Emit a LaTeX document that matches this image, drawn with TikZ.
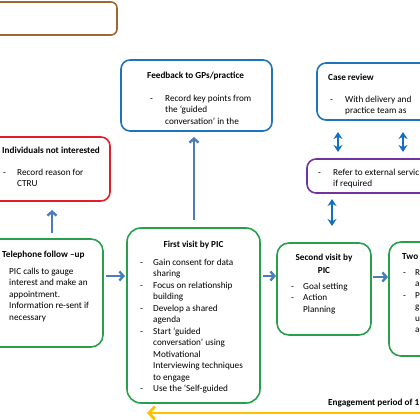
\documentclass[tikz,border=0pt]{standalone}
\usepackage{fontspec}
\setmainfont{Carlito}
\usetikzlibrary{arrows.meta}
\definecolor{gboxc}{RGB}{40,160,75}
\definecolor{bboxc}{RGB}{30,115,190}
\definecolor{rboxc}{RGB}{228,30,40}
\definecolor{pboxc}{RGB}{115,50,160}
\definecolor{brboxc}{RGB}{158,104,46}
\definecolor{arrowblue}{RGB}{74,126,187}
\definecolor{dblue}{RGB}{20,110,195}
\definecolor{yarrow}{RGB}{255,192,0}
\newcommand{\mybody}{\fontsize{9.2}{11.5}\selectfont}
\newcommand{\mytitle}{\fontsize{9.2}{11.5}\selectfont\bfseries}
\begin{document}
\begin{tikzpicture}[x=1pt,y=-1pt,
  bx/.style={draw=#1, line width=1.6pt, rounded corners=9pt, inner sep=0pt, outer sep=0pt},
  ttl/.style={font=\mytitle, inner sep=0pt, anchor=base west},
  bdy/.style={font=\mybody, inner sep=0pt, anchor=base west, align=left},
  barrow/.style={draw=arrowblue, line width=2.4pt, -{Straight Barb[length=4pt,width=9pt]}},
  darrow/.style={draw=dblue, line width=2.4pt, {Stealth[length=7pt,width=9pt]}-{Stealth[length=7pt,width=9pt]}},
  yarr/.style={draw=yarrow, line width=2.8pt, -{Straight Barb[length=6pt,width=13pt]}}
]
\useasboundingbox (0,0) rectangle (420,420);
\clip (0,0) rectangle (420,420);

% boxes
\node[bx=brboxc, rounded corners=6pt, minimum width=137pt, minimum height=33pt] (brown) at (48.5,18.5) {};
\node[bx=bboxc, minimum width=151pt, minimum height=71pt] (feed) at (196.5,95.5) {};
\node[bx=bboxc, minimum width=123pt, minimum height=57pt] (case) at (378.5,91.5) {};
\node[bx=pboxc, minimum width=133pt, minimum height=34pt] (refer) at (373.5,176) {};
\node[bx=rboxc, minimum width=130pt, minimum height=64pt] (notint) at (45,169) {};
\node[bx=gboxc, rounded corners=12pt, minimum width=123pt, minimum height=108pt] (tel) at (41.5,293) {};
\node[bx=gboxc, rounded corners=14pt, minimum width=133pt, minimum height=175pt] (first) at (193.5,315.5) {};
\node[bx=gboxc, rounded corners=12pt, minimum width=94pt, minimum height=92pt] (second) at (324,289) {};
\node[bx=gboxc, rounded corners=12pt, minimum width=71pt, minimum height=114pt] (two) at (424.5,299) {};

% texts
\node[ttl] (feedt) at (147,78) {Feedback to GPs/practice};
\node[bdy] (feedb) at (150,101) {\begin{tabular}[t]{@{}p{15pt}@{}l@{}}-&Record key points from\\&the ‘guided\\&conversation’ in the\end{tabular}};

\node[ttl] (caset) at (328,80) {Case review};
\node[bdy] (caseb) at (330,102) {\begin{tabular}[t]{@{}p{15pt}@{}l@{}}-&With delivery and\\&practice team as\end{tabular}};

\node[bdy] (referb) at (318,175) {\begin{tabular}[t]{@{}p{15pt}@{}l@{}}-&Refer to external servic\\&if required\end{tabular}};

\node[ttl] (notintt) at (2,153) {Individuals not interested};
\node[bdy] (notintb) at (3,175) {\begin{tabular}[t]{@{}p{14pt}@{}l@{}}-&Record reason for\\&CTRU\end{tabular}};

\node[ttl] (telt) at (2,257) {Telephone follow –up};
\node[bdy] (telb) at (9,274) {\begin{tabular}[t]{@{}l@{}}PIC calls to gauge\\interest and make an\\appointment.\\Information re-sent if\\necessary\end{tabular}};

\node[ttl, anchor=base] (firstt) at (193.5,247) {First visit by PIC};
\node[bdy] (firstb) at (140,265) {\begin{tabular}[t]{@{}p{13pt}@{}l@{}}-&Gain consent for data\\&sharing\\-&Focus on relationship\\&building\\-&Develop a shared\\&agenda\\-&Start ‘guided\\&conversation’ using\\&Motivational\\&Interviewing techniques\\&to engage\\-&Use the ‘Self-guided\end{tabular}};

\node[ttl, anchor=base] (secondt1) at (324,260) {Second visit by};
\node[ttl, anchor=base] (secondt2) at (324,273) {PIC};
\node[bdy] (secondb) at (291,289) {\begin{tabular}[t]{@{}p{12pt}@{}l@{}}-&Goal setting\\-&Action\\&Planning\end{tabular}};

\node[ttl] (twot) at (402,259) {Two};
\node[bdy] (twob) at (403,275) {\begin{tabular}[t]{@{}p{12pt}@{}l@{}}-&R\\&a\\-&P\\&g\\&u\\&a\end{tabular}};

\node[ttl] (engage) at (328,405) {Engagement period of 1};

% helper coordinates
\coordinate (xa) at (52,0);
\coordinate (xb) at (194,0);
\coordinate (xc) at (338,0);
\coordinate (xd) at (403,0);
\coordinate (xe) at (332,0);
\coordinate (ya) at (0,276);
\coordinate (yb) at (0,277);
\coordinate (yend) at (440,413);
\coordinate (ytip) at (147,413);

% connectors
\draw[barrow, shorten <=6pt, shorten >=9pt] (tel.north -| xa) -- (notint.south -| xa);
\draw[barrow, shorten <=8pt, shorten >=6pt] (first.north -| xb) -- (feed.south -| xb);
\draw[barrow, shorten <=3pt, shorten >=2pt] (tel.east |- ya) -- (first.west |- ya);
\draw[barrow, shorten <=3pt, shorten >=1pt] (first.east |- ya) -- (second.west |- ya);
\draw[barrow, shorten <=2pt, shorten >=1pt] (second.east |- yb) -- (two.west |- yb);
\draw[darrow, shorten <=12pt, shorten >=7pt] (case.south -| xc) -- (refer.north -| xc);
\draw[darrow, shorten <=12pt, shorten >=7pt] (case.south -| xd) -- (refer.north -| xd);
\draw[darrow, shorten <=6pt, shorten >=17pt] (refer.south -| xe) -- (second.north -| xe);
\draw[yarr] (yend) -- (ytip);
\end{tikzpicture}
\end{document}
